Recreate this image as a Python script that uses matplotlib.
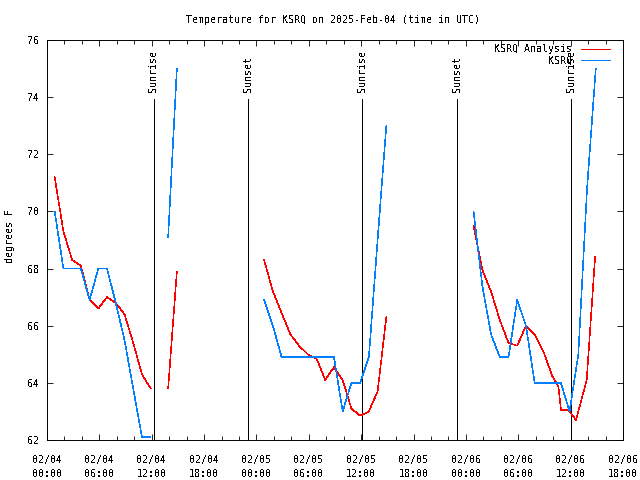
#!/usr/bin/env python3
"""
plot.py — KSRQ temperature vs. analysis, gnuplot-style (matplotlib).

Output: out.png (640x480)
"""

from datetime import datetime, timedelta

import matplotlib
matplotlib.use("Agg")
import matplotlib.pyplot as plt
import matplotlib.dates as mdates

# ---- data (hours after 2025-02-04 00:00 UTC, degrees F) -------------------
START = datetime(2025, 2, 4, 0, 0)
END = datetime(2025, 2, 6, 18, 0)

obs_hours = [
    [0.88, 1.88, 2.88, 3.88, 4.88, 5.88, 6.88, 7.88, 8.88, 9.88, 10.88, 11.88],
    [13.88, 14.88],
    [24.88, 25.88, 26.88, 27.88, 28.88, 29.88, 30.88, 31.88, 32.88, 33.88,
     34.88, 35.88, 36.88, 37.88, 38.88],
    [48.88, 49.88, 50.88, 51.88, 52.88, 53.88, 54.88, 55.88, 56.88, 57.88,
     58.88, 59.88, 60.88, 61.88, 62.88],
]
obs_temps = [
    [70.0, 68.0, 68.0, 68.0, 66.9, 68.0, 68.0, 66.8, 65.5, 63.8, 62.1, 62.1],
    [69.1, 75.0],
    [66.9, 66.0, 64.9, 64.9, 64.9, 64.9, 64.9, 64.9, 64.9, 63.0,
     64.0, 64.0, 64.9, 69.0, 73.0],
    [70.0, 67.4, 65.7, 64.9, 64.9, 66.9, 66.0, 64.0, 64.0, 64.0,
     64.0, 63.0, 65.0, 70.8, 75.0],
]

ana_hours = [
    [0.88, 1.88, 2.88, 3.88, 4.88, 5.88, 6.88, 7.88, 8.88, 9.88, 10.88, 11.88],
    [13.88, 14.88],
    [24.88, 25.88, 26.88, 27.88, 28.88, 29.88, 30.88, 31.88, 32.88, 33.88,
     34.88, 35.88, 36.88, 37.88, 38.88],
    [48.88, 49.88, 50.88, 51.88, 52.88, 53.88, 54.88, 55.88, 56.88, 57.88,
     58.59, 58.90, 59.73, 60.62, 61.84, 62.80],
]
ana_temps = [
    [71.2, 69.3, 68.3, 68.1, 66.9, 66.6, 67.0, 66.8, 66.4, 65.4, 64.3, 63.8],
    [63.8, 67.9],
    [68.3, 67.2, 66.45, 65.7, 65.3, 65.0, 64.85, 64.1, 64.55, 64.1,
     63.1, 62.85, 63.0, 63.7, 66.3],
    [69.5, 67.95, 67.2, 66.2, 65.4, 65.3, 66.0, 65.7, 65.1, 64.25,
     63.87, 63.05, 63.05, 62.7, 64.1, 68.4],
]

sun_hours = [12.22, 23.07, 36.13, 47.02, 60.08]
sun_labels = ["Sunrise", "Sunset", "Sunrise", "Sunset", "Sunrise"]

Y_MIN, Y_MAX = 62, 76
TITLE = "Temperature for KSRQ on 2025-Feb-04 (time in UTC)"

RED = "#ff0000"
BLUE = "#0080ff"
FONT = 7.2


def to_times(hours):
    return [START + timedelta(hours=h) for h in hours]


def main():
    plt.rcParams["font.family"] = ["DejaVu Sans Mono"]
    plt.rcParams["font.size"] = FONT
    plt.rcParams["text.antialiased"] = False
    plt.rcParams["lines.antialiased"] = False

    fig = plt.figure(figsize=(6.4, 4.8), dpi=100)
    ax = fig.add_axes([47 / 640, 40 / 480, 576 / 640, 400 / 480])

    # sunrise / sunset markers
    for h, lab in zip(sun_hours, sun_labels):
        t = START + timedelta(hours=h)
        ax.plot([t, t], [Y_MIN, 73.92], color="black", linewidth=0.7,
                solid_capstyle="butt")
        ax.text(t, 74.18, lab, rotation=90, ha="center", va="bottom",
                fontsize=FONT)

    for i, (hrs, vals) in enumerate(zip(ana_hours, ana_temps)):
        ax.plot(to_times(hrs), vals, color=RED, linewidth=0.4,
                solid_joinstyle="miter",
                label="KSRQ Analysis" if i == 0 else None)
    for i, (hrs, vals) in enumerate(zip(obs_hours, obs_temps)):
        ax.plot(to_times(hrs), vals, color=BLUE, linewidth=0.4,
                solid_joinstyle="miter",
                label="KSRQ" if i == 0 else None)

    ax.set_xlim(START, END)
    ax.set_ylim(Y_MIN, Y_MAX)
    ax.set_yticks(range(Y_MIN, Y_MAX + 1, 2))

    ax.xaxis.set_major_locator(mdates.HourLocator(byhour=[0, 6, 12, 18]))
    ax.xaxis.set_minor_locator(mdates.HourLocator(byhour=range(0, 24, 2)))
    ax.xaxis.set_major_formatter(mdates.DateFormatter("%m/%d\n%H:%M"))

    ax.tick_params(which="both", direction="in", top=True, right=True,
                   width=0.6, colors="black", labelsize=FONT)
    ax.tick_params(which="major", length=4.5)
    ax.tick_params(which="minor", length=3)
    ax.tick_params(axis="y", pad=5.8)
    ax.tick_params(axis="x", pad=10.5)
    for lbl in ax.get_xticklabels():
        lbl.set_linespacing(1.55)

    for sp in ax.spines.values():
        sp.set_linewidth(0.7)
        sp.set_color("black")

    fig.text(333 / 640, 1 - 20 / 480, TITLE, ha="center", va="center",
             fontsize=FONT)
    fig.text(10 / 640, 1 - 236 / 480, "degrees F", rotation=90,
             ha="center", va="center", fontsize=FONT)

    ax.legend(loc="upper right", bbox_to_anchor=(610 / 640, 1 - 44 / 480),
              bbox_transform=fig.transFigure, frameon=False,
              markerfirst=False, borderpad=0, borderaxespad=0,
              handlelength=2.9, handletextpad=0.9, labelspacing=0.15,
              fontsize=FONT)

    fig.savefig("out.png", dpi=100)
    print("Saved -> out.png")


if __name__ == "__main__":
    main()
